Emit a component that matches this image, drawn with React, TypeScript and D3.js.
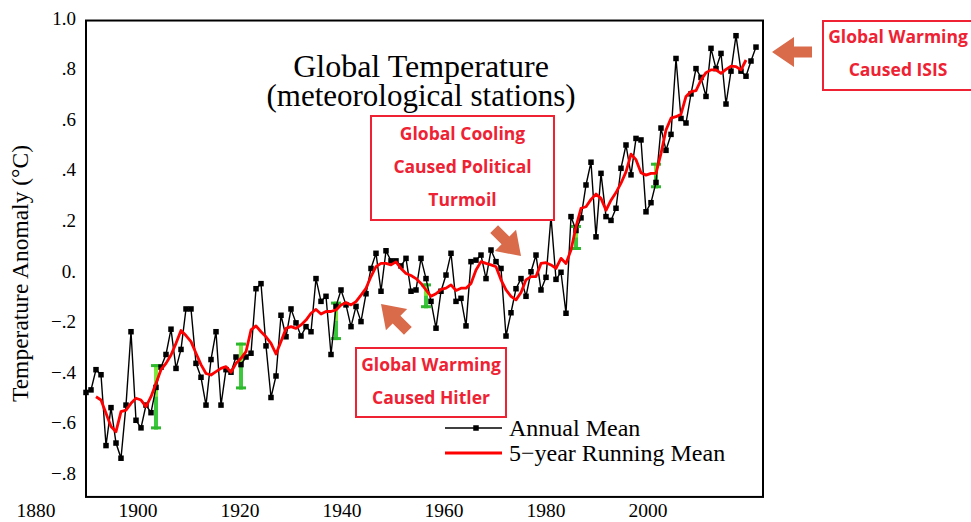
import * as d3 from 'd3';

// Annual mean temperature anomaly (°C), 1880-2014
const annualStart = 1880;
const annual = [
  -0.48, -0.47, -0.39, -0.41, -0.69, -0.54, -0.68, -0.74, -0.53, -0.24,
  -0.59, -0.62, -0.53, -0.56, -0.46, -0.38, -0.33, -0.23, -0.385, -0.31,
  -0.15, -0.15, -0.365, -0.42, -0.53, -0.35, -0.24, -0.53, -0.39, -0.4,
  -0.34, -0.37, -0.34, -0.325, -0.07, -0.05, -0.296, -0.5, -0.415, -0.175,
  -0.26, -0.15, -0.205, -0.257, -0.22, -0.24, -0.03, -0.12, -0.1, -0.33,
  -0.14, -0.075, -0.134, -0.22, -0.14, -0.2, -0.09, 0.01, 0.07, -0.08,
  0.08, 0.04, 0.04, 0.02, 0.05, -0.08, -0.075, 0.05, -0.03, -0.12,
  -0.226, -0.08, -0.016, 0.07, -0.12, -0.108, -0.217, 0.037, 0.043, 0.063,
  -0.03, 0.083, 0.037, 0.01, -0.257, -0.165, -0.07, -0.03, -0.1, -0.003,
  0.063, -0.075, -0.025, 0.215, -0.033, -0.005, -0.167, 0.215, 0.16, 0.21,
  0.34, 0.43, 0.135, 0.386, 0.215, 0.2, 0.248, 0.406, 0.498, 0.38,
  0.524, 0.518, 0.234, 0.27, 0.35, 0.565, 0.477, 0.54, 0.84, 0.603,
  0.585, 0.7, 0.8, 0.765, 0.69, 0.88, 0.8, 0.86, 0.66, 0.79,
  0.93, 0.79, 0.77, 0.83, 0.885,
];

// 5-year running mean, 1882-2012
const runningStart = 1882;
const running = [
  -0.497, -0.51, -0.562, -0.615, -0.635, -0.556, -0.55, -0.523,
  -0.503, -0.51, -0.536, -0.497, -0.444, -0.39, -0.365, -0.332, -0.286, -0.235,
  -0.255, -0.279, -0.325, -0.37, -0.405, -0.411, -0.398, -0.385, -0.378, -0.4,
  -0.365, -0.345, -0.319, -0.233, -0.217, -0.24, -0.26, -0.286, -0.328, -0.279,
  -0.227, -0.22, -0.227, -0.213, -0.194, -0.167, -0.152, -0.17, -0.16, -0.16,
  -0.154, -0.134, -0.125, -0.134, -0.121, -0.095, -0.068, -0.022, 0.017, 0.03,
  0.03, 0.024, 0.036, 0.01, -0.01, -0.018, -0.03, -0.049, -0.075, -0.1,
  -0.09, -0.073, -0.068, -0.055, -0.077, -0.068, -0.068, -0.049, 0.004, 0.037,
  0.03, 0.024, 0.017, -0.035, -0.075, -0.1, -0.114, -0.085, -0.035, -0.022,
  -0.022, 0.03, 0.033, 0.024, 0.01, 0.05, 0.03, 0.083, 0.175, 0.248,
  0.254, 0.283, 0.304, 0.287, 0.24, 0.28, 0.31, 0.347, 0.392, 0.462,
  0.44, 0.388, 0.379, 0.386, 0.386, 0.465, 0.557, 0.604, 0.61, 0.62,
  0.69, 0.709, 0.713, 0.755, 0.784, 0.795, 0.795, 0.781, 0.797, 0.81,
  0.808, 0.795, 0.834,
];

// green uncertainty bars
const errYears = [1894, 1911, 1930, 1948, 1978, 1994];
const errLow = [-0.626, -0.468, -0.273, -0.147, 0.083, 0.327];
const errHigh = [-0.368, -0.283, -0.121, -0.049, 0.182, 0.428];

const yTicks = [1.0, 0.8, 0.6, 0.4, 0.2, 0, -0.2, -0.4, -0.6, -0.8];
const yTickLabels = ['1.0', '.8', '.6', '.4', '.2', '0.', '\u2212.2', '\u2212.4', '\u2212.6', '\u2212.8'];
const xTicks = [1880, 1900, 1920, 1940, 1960, 1980, 2000];

const serif = '"Liberation Serif", "Times New Roman", serif';
const sans = '"Open Sans", "DejaVu Sans", sans-serif';
const red = '#ee2233';
const arrowColor = '#d96a4a';

function Arrow({ tx, ty, angle, L = 40 }: { tx: number; ty: number; angle: number; L?: number }) {
  const hl = 22, hw = 15, sw = 5.5;
  const pts = [[0, 0], [-hl, -hw], [-hl, -sw], [-L, -sw], [-L, sw], [-hl, sw], [-hl, hw]];
  return (
    <polygon
      points={pts.map(p => p.join(',')).join(' ')}
      fill={arrowColor}
      transform={`translate(${tx},${ty}) rotate(${angle})`}
    />
  );
}

function Note({ cx, top, w, h, lines, lineY }: { cx: number; top: number; w: number; h: number; lines: string[]; lineY: number[] }) {
  return (
    <g>
      <rect x={cx - w / 2} y={top} width={w} height={h} fill="white" stroke={red} strokeWidth={2} />
      {lines.map((t, i) => (
        <text key={i} x={cx} y={lineY[i]} textAnchor="middle" dominantBaseline="central"
          fontFamily={sans} fontWeight="bold" fontSize={17.5} fill={red}>{t}</text>
      ))}
    </g>
  );
}

export default function App() {
  const x = d3.scaleLinear().domain([1880, 2014]).range([86, 756]);
  const y = d3.scaleLinear().domain([-0.8, 1.0]).range([473.4, 18]);
  // the year labels sit on their own, slightly wider spacing in the original
  const xLabel = d3.scaleLinear().domain([1880, 2000]).range([36, 648]);

  const annualPts = annual.map((v, i) => ({ year: annualStart + i, v }));
  const runningPts = running.map((v, i) => ({ year: runningStart + i, v }));

  const line = d3.line<{ year: number; v: number }>().x(d => x(d.year)).y(d => y(d.v));

  const fx0 = x(1880), fx1 = x(2015.4);
  const fy0 = y(0.99), fy1 = y(-0.893);

  return (
    <svg width={971} height={522} style={{ position: 'absolute', left: 0, top: 0, background: 'white' }}>
      <rect x={0} y={0} width={971} height={522} fill="white" />

      {/* frame */}
      <rect x={fx0} y={fy0} width={fx1 - fx0} height={fy1 - fy0} fill="none" stroke="black" strokeWidth={2} />

      {/* y tick labels */}
      {yTicks.map((t, i) => (
        <text key={t} x={76} y={y(t)} textAnchor="end" dominantBaseline="central"
          fontFamily={serif} fontSize={19}>{yTickLabels[i]}</text>
      ))}

      {/* x tick labels */}
      {xTicks.map(t => (
        <text key={t} x={xLabel(t)} y={517} textAnchor="middle" fontFamily={serif} fontSize={19.5}>{t}</text>
      ))}

      <text transform={`translate(28,${y(-0.01)}) rotate(-90)`} textAnchor="middle"
        fontFamily={serif} fontSize={23.5}>Temperature Anomaly (°C)</text>

      {/* title */}
      <text x={421} y={77} textAnchor="middle" fontFamily={serif} fontSize={32}>Global Temperature</text>
      <text x={421} y={106} textAnchor="middle" fontFamily={serif} fontSize={31}>(meteorological stations)</text>

      {/* error bars */}
      {errYears.map((yr, i) => {
        const cx = x(yr);
        const yl = y(errLow[i]);
        const yh = y(errHigh[i]);
        return (
          <g key={yr}>
            <line x1={cx} x2={cx} y1={yh} y2={yl} stroke="#7be83c" strokeWidth={4} />
            <line x1={cx} x2={cx} y1={(yh + yl) / 2} y2={yl} stroke="#3cc83c" strokeWidth={4} />
            <line x1={cx - 5} x2={cx + 5} y1={yh + 1.5} y2={yh + 1.5} stroke="#2eb82e" strokeWidth={3} />
            <line x1={cx - 5} x2={cx + 5} y1={yl - 1.5} y2={yl - 1.5} stroke="#2eb82e" strokeWidth={3} />
          </g>
        );
      })}

      {/* annual mean */}
      <path d={line(annualPts) ?? ''} fill="none" stroke="black" strokeWidth={1.4} />
      {annualPts.map(d => (
        <rect key={d.year} x={x(d.year) - 2.75} y={y(d.v) - 2.75} width={5.5} height={5.5} fill="black" />
      ))}

      {/* running mean */}
      <path d={line(runningPts) ?? ''} fill="none" stroke="#ff0000" strokeWidth={2.8} strokeLinejoin="round" />

      {/* legend */}
      <line x1={445} x2={502} y1={428} y2={428} stroke="black" strokeWidth={1.4} />
      <rect x={473.25} y={425.25} width={5.5} height={5.5} fill="black" />
      <text x={509} y={436} fontFamily={serif} fontSize={24}>Annual Mean</text>
      <line x1={445} x2={502} y1={453} y2={453} stroke="#ff0000" strokeWidth={3} />
      <text x={509} y={461} fontFamily={serif} fontSize={24}>5{'\u2212'}year Running Mean</text>

      {/* annotations */}
      <Note cx={462.5} top={116} w={183} h={104}
        lines={['Global Cooling', 'Caused Political', 'Turmoil']} lineY={[133, 166, 199]} />
      <Note cx={431} top={348} w={150} h={69}
        lines={['Global Warming', 'Caused Hitler']} lineY={[364, 397]} />
      <Note cx={898} top={21} w={150} h={69}
        lines={['Global Warming', 'Caused ISIS']} lineY={[36, 69]} />

      <Arrow tx={772} ty={52} angle={180} />
      <Arrow tx={521} ty={256} angle={45} L={38} />
      <Arrow tx={381} ty={304} angle={225} L={38} />
    </svg>
  );
}
